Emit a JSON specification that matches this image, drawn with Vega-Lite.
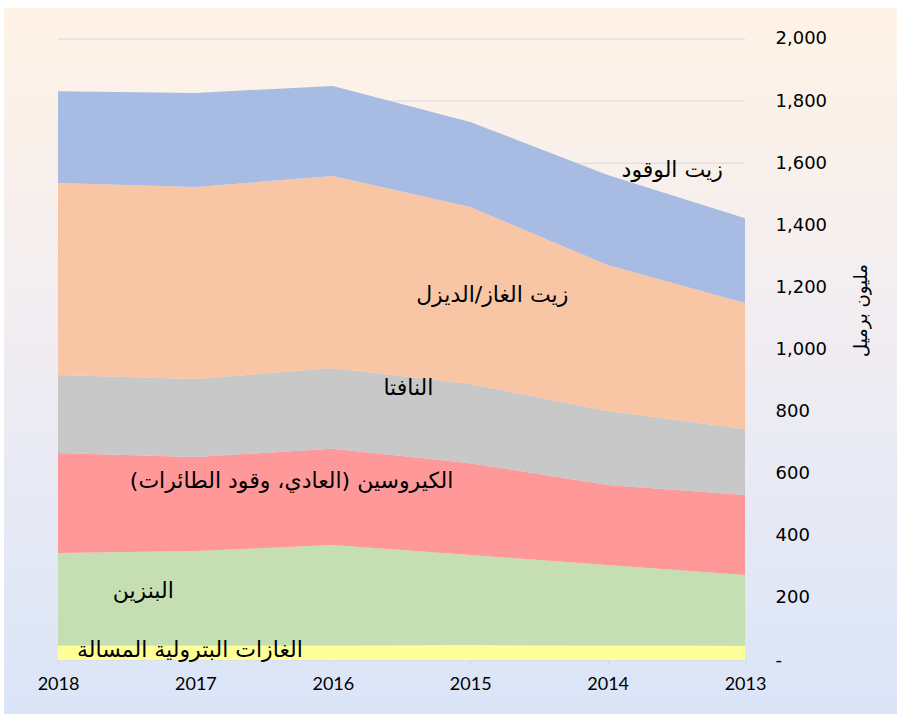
{
  "$schema": "https://vega.github.io/schema/vega-lite/v6.json",
  "width": 893,
  "height": 706,
  "padding": {"left": 4, "top": 8, "right": 0, "bottom": 0},
  "autosize": {"type": "none"},
  "background": "#ffffff",
  "config": {
    "view": {"stroke": null, "fill": {"gradient": "linear", "x1": 0, "y1": 0, "x2": 0, "y2": 1, "stops": [{"offset": 0, "color": "#fff3e6"}, {"offset": 0.45, "color": "#f1edf1"}, {"offset": 1, "color": "#dae5f8"}]}}
  },
  "datasets": {
    "main": [
      {"year": 2018, "product": "الغازات البترولية المسالة", "value": 47},
      {"year": 2017, "product": "الغازات البترولية المسالة", "value": 47},
      {"year": 2016, "product": "الغازات البترولية المسالة", "value": 47},
      {"year": 2015, "product": "الغازات البترولية المسالة", "value": 48},
      {"year": 2014, "product": "الغازات البترولية المسالة", "value": 47},
      {"year": 2013, "product": "الغازات البترولية المسالة", "value": 46},
      {"year": 2018, "product": "البنزين", "value": 298},
      {"year": 2017, "product": "البنزين", "value": 304},
      {"year": 2016, "product": "البنزين", "value": 323},
      {"year": 2015, "product": "البنزين", "value": 290},
      {"year": 2014, "product": "البنزين", "value": 259},
      {"year": 2013, "product": "البنزين", "value": 228},
      {"year": 2018, "product": "الكيروسين", "value": 322},
      {"year": 2017, "product": "الكيروسين", "value": 303},
      {"year": 2016, "product": "الكيروسين", "value": 310},
      {"year": 2015, "product": "الكيروسين", "value": 296},
      {"year": 2014, "product": "الكيروسين", "value": 258},
      {"year": 2013, "product": "الكيروسين", "value": 257},
      {"year": 2018, "product": "النافتا", "value": 251},
      {"year": 2017, "product": "النافتا", "value": 251},
      {"year": 2016, "product": "النافتا", "value": 260},
      {"year": 2015, "product": "النافتا", "value": 255},
      {"year": 2014, "product": "النافتا", "value": 238},
      {"year": 2013, "product": "النافتا", "value": 213},
      {"year": 2018, "product": "زيت الغاز/الديزل", "value": 618},
      {"year": 2017, "product": "زيت الغاز/الديزل", "value": 618},
      {"year": 2016, "product": "زيت الغاز/الديزل", "value": 619},
      {"year": 2015, "product": "زيت الغاز/الديزل", "value": 570},
      {"year": 2014, "product": "زيت الغاز/الديزل", "value": 470},
      {"year": 2013, "product": "زيت الغاز/الديزل", "value": 406},
      {"year": 2018, "product": "زيت الوقود", "value": 296},
      {"year": 2017, "product": "زيت الوقود", "value": 303},
      {"year": 2016, "product": "زيت الوقود", "value": 290},
      {"year": 2015, "product": "زيت الوقود", "value": 274},
      {"year": 2014, "product": "زيت الوقود", "value": 290},
      {"year": 2013, "product": "زيت الوقود", "value": 273}
    ],
    "grid": [
      {"v": 0}, {"v": 200}, {"v": 400}, {"v": 600}, {"v": 800}, {"v": 1000},
      {"v": 1200}, {"v": 1400}, {"v": 1600}, {"v": 1800}, {"v": 2000}
    ],
    "labels": [
      {"x": 2013.53, "y": 1578, "t": "زيت الوقود"},
      {"x": 2014.84, "y": 1175, "t": "زيت الغاز/الديزل"},
      {"x": 2015.45, "y": 876, "t": "النافتا"},
      {"x": 2016.3, "y": 576, "t": "الكيروسين (العادي، وقود الطائرات)"},
      {"x": 2017.38, "y": 222, "t": "البنزين"},
      {"x": 2017.04, "y": 32, "t": "الغازات البترولية المسالة"}
    ]
  },
  "layer": [
    {
      "data": {"name": "grid"},
      "mark": {"type": "rule", "color": "#d9d9d9", "strokeWidth": 1},
      "encoding": {
        "y": {"field": "v", "type": "quantitative", "scale": {"domain": [-173.9, 2099.8], "nice": false, "zero": false},
          "axis": {"orient": "right", "offset": -124, "values": [0, 200, 400, 600, 800, 1000, 1200, 1400, 1600, 1800, 2000], "format": ",.0f", "labelExpr": "datum.value == 0 ? '-' : datum.label", "grid": false, "domain": false, "ticks": false, "labelPadding": 2, "labelFont": "DejaVu Sans", "labelFontSize": 18, "labelColor": "#000000", "labelAlign": "left", "labelBaseline": "middle",
            "title": "مليون برميل", "titleAngle": 270, "titleX": 88, "titleY": 302, "titleAlign": "center", "titleBaseline": "middle", "titleFont": "DejaVu Sans", "titleFontSize": 18, "titleFontWeight": "normal", "titleColor": "#000000"}},
        "x": {"datum": 2018, "type": "quantitative", "scale": {"domain": [2018.393, 2011.894], "nice": false, "zero": false},
          "axis": {"orient": "bottom", "offset": -54, "values": [2013, 2014, 2015, 2016, 2017, 2018], "format": "d", "grid": false, "domain": false, "ticks": true, "tickSize": 5, "tickColor": "#d9d9d9", "labelPadding": 10, "labelFont": "Lato", "labelFontSize": 18, "labelColor": "#000000", "title": null}},
        "x2": {"datum": 2013}
      }
    },
    {
      "data": {"name": "main"},
      "transform": [
        {"calculate": "indexof(['الغازات البترولية المسالة', 'البنزين', 'الكيروسين', 'النافتا', 'زيت الغاز/الديزل', 'زيت الوقود'], datum.product)", "as": "stackOrder"}
      ],
      "mark": {"type": "area", "stroke": null},
      "encoding": {
        "x": {"field": "year", "type": "quantitative"},
        "y": {"field": "value", "type": "quantitative", "stack": "zero"},
        "order": {"field": "stackOrder", "type": "quantitative", "sort": "ascending"},
        "color": {
          "field": "product", "type": "nominal",
          "scale": {"domain": ["الغازات البترولية المسالة", "البنزين", "الكيروسين", "النافتا", "زيت الغاز/الديزل", "زيت الوقود"], "range": ["#ffff99", "#c5dfb3", "#ff9999", "#c8c8c8", "#f8c6a5", "#a7bbe3"]},
          "legend": null
        },
        "opacity": {"value": 1}
      }
    },
    {
      "data": {"name": "labels"},
      "mark": {"type": "text", "font": "DejaVu Sans", "fontSize": 22, "color": "#000000", "align": "center", "baseline": "middle"},
      "encoding": {
        "x": {"field": "x", "type": "quantitative"},
        "y": {"field": "y", "type": "quantitative"},
        "text": {"field": "t"}
      }
    }
  ]
}
